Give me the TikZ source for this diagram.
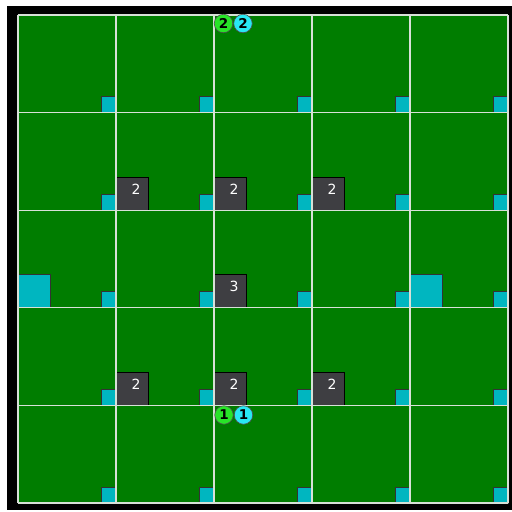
\documentclass[tikz,border=0pt]{standalone}
\usepackage{fontspec}
\setmainfont{DejaVu Sans}
\usepackage{tikz}
\usetikzlibrary{calc}
\definecolor{field-green}{RGB}{0,125,0}
\definecolor{grid-line}{RGB}{215,225,215}
\definecolor{tile-cyan}{RGB}{0,182,192}
\definecolor{block-gray}{RGB}{62,62,66}
\definecolor{agent-green}{RGB}{40,228,40}
\definecolor{agent-cyan}{RGB}{40,232,244}

\begin{document}
\begin{tikzpicture}[x=1pt, y=-1pt,
    gridline/.style={grid-line, line width=1.3pt},
    tile/.style={fill=tile-cyan, draw=black!80, line width=0.8pt},
    block/.style={fill=block-gray, draw=black, line width=0.8pt},
    blocknum/.style={white, inner sep=0pt, font=\fontsize{14}{14}\selectfont},
    agent/.style={circle, draw=black!70, line width=0.6pt, minimum size=18.5pt, inner sep=0pt, font=\fontsize{13.5}{13.5}\selectfont\bfseries}]
    \useasboundingbox (0,0) rectangle (512,512);
    \fill[white] (0,0) rectangle (512,512);
    \fill[black] (7,6) rectangle (512,510);
    \fill[field-green] (18,15) rectangle (508,503);
    % small tiles in every cell
    \foreach \c in {0,...,4}
        \foreach \r in {0,...,4}
            \draw[tile] ({18+98*(\c+1)-15},{15+97.6*(\r+1)-16}) rectangle ({18+98*(\c+1)},{15+97.6*(\r+1)});
    % large tiles
    \foreach \c in {0,4}
        \draw[tile] ({18+98*\c},{15+97.6*3-33}) rectangle ({18+98*\c+32},{15+97.6*3});
    % blocks
    \foreach \c/\r/\n in {1/1/2, 2/1/2, 3/1/2, 2/2/3, 1/3/2, 2/3/2, 3/3/2} {
        \draw[block] ({18+98*\c},{15+97.6*(\r+1)-33}) rectangle ({18+98*\c+32},{15+97.6*(\r+1)});
        \node[blocknum] (num-\c-\r) at ({18+98*\c+20},{15+97.6*(\r+1)-21}) {\n};
    }
    % grid
    \foreach \i in {0,...,5} {
        \draw[gridline] ({18+98*\i},15) -- ({18+98*\i},503);
        \draw[gridline] (18,{15+97.6*\i}) -- (508,{15+97.6*\i});
    }
    % agents
    \node[agent, fill=agent-green] (goal-green) at (223.5,23.5) {2};
    \node[agent, fill=agent-cyan] (goal-cyan) at (243,23.5) {2};
    \node[agent, fill=agent-green] (start-green) at (224,415) {1};
    \node[agent, fill=agent-cyan] (start-cyan) at (243.5,415) {1};
\end{tikzpicture}
\end{document}
